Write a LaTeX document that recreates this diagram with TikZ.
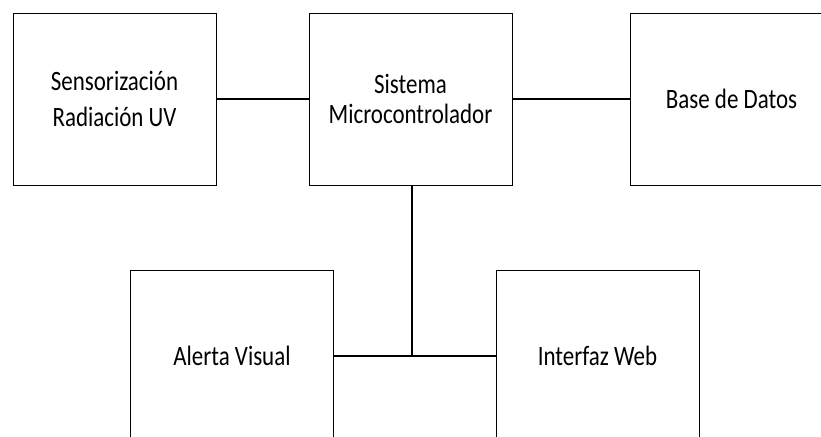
\documentclass[tikz,border=0pt]{standalone}
\usepackage{fontspec}
\setmainfont{Carlito}[FakeStretch=0.82]
\usepackage{tikz}
\usetikzlibrary{calc}

\begin{document}
\begin{tikzpicture}[x=1pt, y=1pt,
		bloque/.style = {draw, line width=0.8pt, minimum width=203pt, minimum height=172pt, align=center, inner sep=0pt, font=\fontsize{28}{36}\selectfont},
		enlace/.style = {line width=1.8pt}]
		\useasboundingbox (0,0) rectangle (821,436);
		\clip (0,0) rectangle (821,436);
		
		\node [bloque] (sensor) at (114.5,337) {Sensorización\\Radiación UV};
		\node [bloque, font=\fontsize{28}{30}\selectfont] (micro) at (410.5,337) {Sistema\\Microcontrolador};
		\node [bloque] (datos) at (731.5,337) {Base de Datos};
		\node [bloque] (alerta) at (232,80) {Alerta Visual};
		\node [bloque] (web) at (597.5,80) {Interfaz Web};
		
		\begin{scope}[enlace]
			\draw (sensor.east) -- (sensor.east -| micro.west);
			\draw (micro.east |- datos.west) -- (datos.west);
			\coordinate (union) at ($(micro.south)+(1.5,0)$);
			\draw (union) -- (union |- alerta.east);
			\draw (alerta.east) -- (web.west);
		\end{scope}
	\end{tikzpicture}
\end{document}
